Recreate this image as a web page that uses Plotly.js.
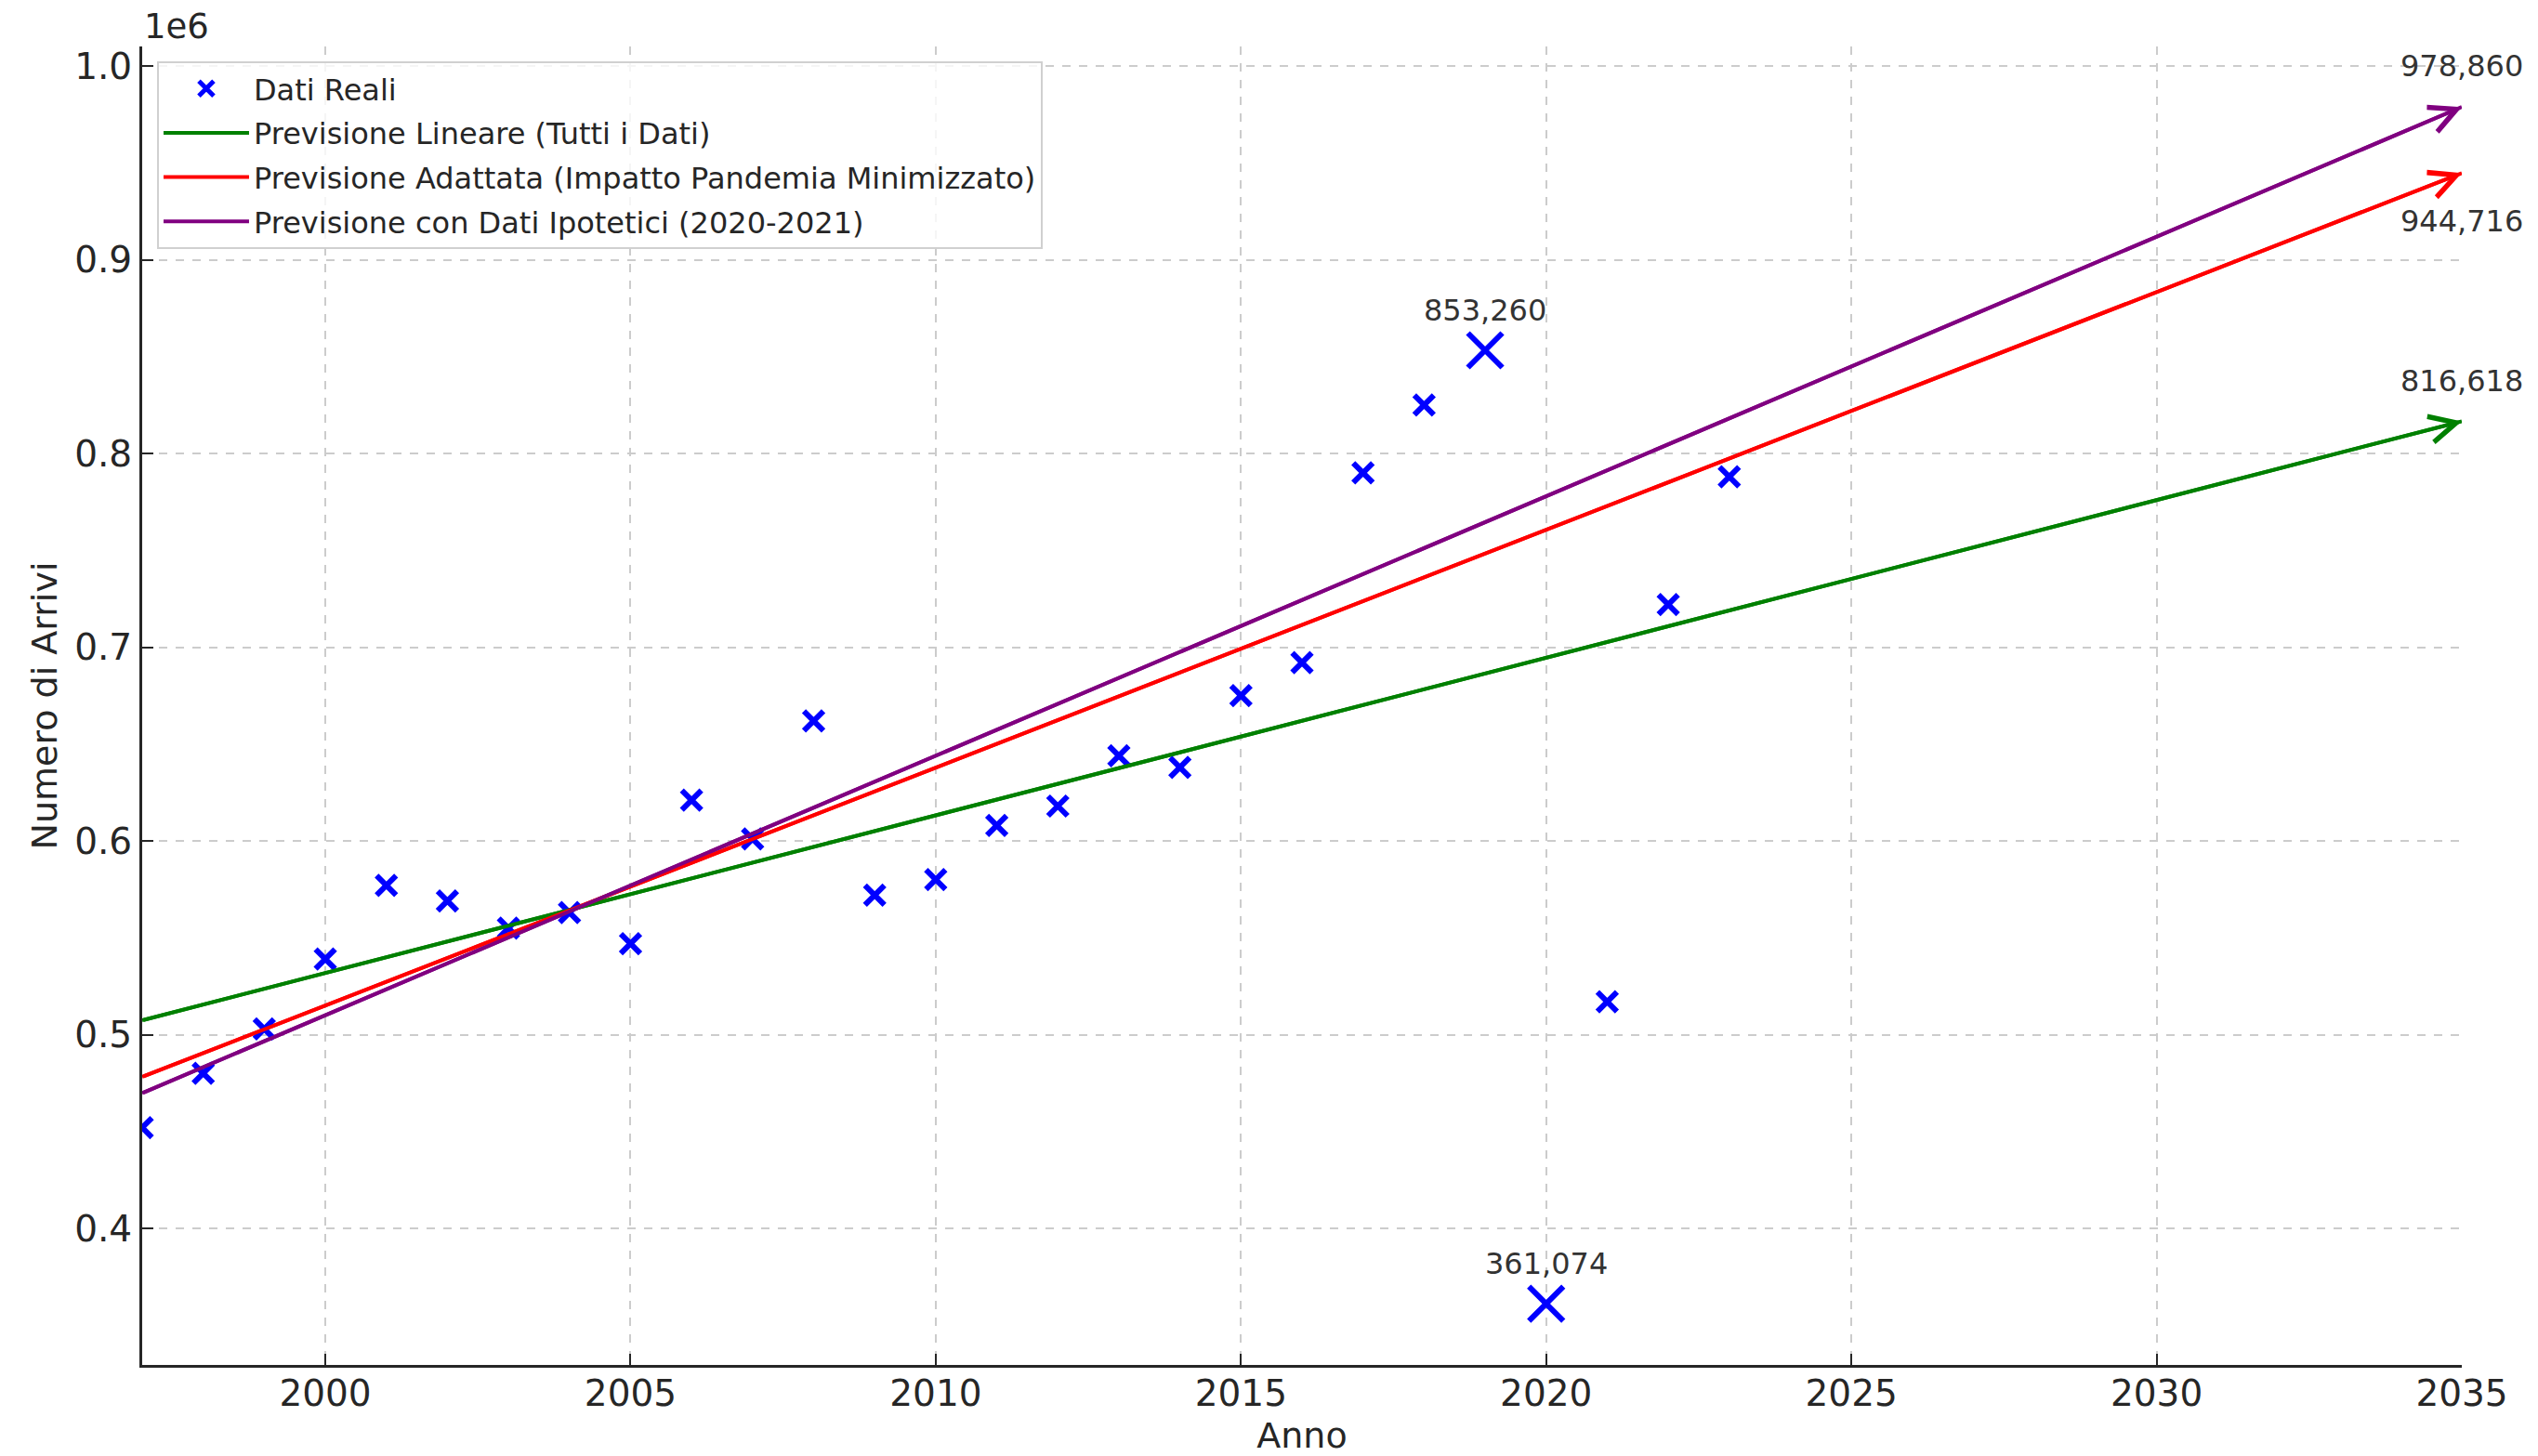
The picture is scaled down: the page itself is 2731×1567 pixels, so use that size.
<!DOCTYPE html>
<html>
<head>
<meta charset="utf-8">
<script src="https://cdn.plot.ly/plotly-3.0.1.min.js"></script>
<style>
  html, body { margin: 0; padding: 0; background: #ffffff; }
  #chart { width: 2731px; height: 1567px; }
</style>
</head>
<body>
<div id="chart"></div>
<script>
// arrivi annuali
const anni = [1997, 1998, 1999, 2000, 2001, 2002, 2003, 2004, 2005, 2006, 2007, 2008, 2009,
  2010, 2011, 2012, 2013, 2014, 2015, 2016, 2017, 2018, 2019, 2020, 2021, 2022, 2023];
const arrivi = [452000, 480000, 503000, 539000, 577000, 569000, 555000, 563000, 547000, 621000,
  601000, 662000, 572000, 580000, 608000, 618000, 644000, 638000, 675000, 692000, 790000,
  825000, 853260, 361074, 517000, 722000, 788000];
const anniEvidenziati = [2019, 2020];

// previsioni: estremi delle rette
const anniPrev = [1997, 2035];
const prevLineare = [507400, 816618];
const prevAdattata = [478200, 944716];
const prevIpotetica = [469800, 978860];

const xTicks = [2000, 2005, 2010, 2015, 2020, 2025, 2030, 2035];
const yTicks = [400000, 500000, 600000, 700000, 800000, 900000, 1000000];
const yTickText = ['0.4', '0.5', '0.6', '0.7', '0.8', '0.9', '1.0'];

const FONT = 'DejaVu Sans, sans-serif';
const fmt = v => Math.round(v).toLocaleString('en-US');

function lineTrace(name, yv, color, rank) {
  return {
    x: anniPrev,
    y: yv,
    mode: 'lines',
    type: 'scatter',
    name: name,
    legendrank: rank,
    legendgroup: name,
    line: { color: color, width: 4 }
  };
}

const traces = [
  lineTrace('Previsione Lineare (Tutti i Dati)', prevLineare, '#008000', 2),
  lineTrace('Previsione Adattata (Impatto Pandemia Minimizzato)', prevAdattata, '#ff0000', 3),
  lineTrace('Previsione con Dati Ipotetici (2020-2021)', prevIpotetica, '#800080', 4),
  {
    x: anni,
    y: arrivi,
    mode: 'markers',
    type: 'scatter',
    name: 'Dati Reali',
    legendrank: 1,
    legendgroup: 'dati',
    marker: {
      symbol: 'x-thin',
      size: anni.map(a => anniEvidenziati.includes(a) ? 37 : 21),
      color: '#0000ff',
      opacity: 1,
      line: { color: '#0000ff', width: 6 }
    }
  }
];

const annotations = [];

// frecce alla fine delle previsioni
[[prevLineare, '#008000', 43], [prevAdattata, '#ff0000', -52], [prevIpotetica, '#800080', 44]]
  .forEach(([yv, color, shift]) => {
    annotations.push({
      x: anniPrev[1], y: yv[1], xref: 'x', yref: 'y',
      ax: anniPrev[0], ay: yv[0], axref: 'x', ayref: 'y',
      text: '', showarrow: true, arrowhead: 5, arrowsize: 1.4,
      arrowwidth: 4, arrowcolor: color, standoff: 0
    });
    annotations.push({
      x: anniPrev[1], y: yv[1], xref: 'x', yref: 'y',
      text: fmt(yv[1]), showarrow: false, yshift: shift,
      xanchor: 'center', yanchor: 'middle',
      font: { family: FONT, size: 32, color: '#333333' }
    });
  });

// etichette dei punti evidenziati
anniEvidenziati.forEach(a => {
  const v = arrivi[anni.indexOf(a)];
  annotations.push({
    x: a, y: v, xref: 'x', yref: 'y',
    text: fmt(v), showarrow: false, yshift: 43,
    xanchor: 'center', yanchor: 'middle',
    font: { family: FONT, size: 32, color: '#333333' }
  });
});

// fattore di scala dell'asse y
annotations.push({
  x: 0, y: 1, xref: 'paper', yref: 'paper',
  text: '1e6', showarrow: false, xanchor: 'left', yanchor: 'middle',
  xshift: 0, yshift: 22,
  font: { family: FONT, size: 37, color: '#262626' }
});

const axisCommon = {
  showgrid: true,
  gridcolor: '#cccccc',
  gridwidth: 2,
  griddash: 'dash',
  zeroline: false,
  showline: true,
  linecolor: '#262626',
  linewidth: 3,
  ticks: 'inside',
  ticklen: 12,
  tickwidth: 2,
  tickcolor: '#262626',
  tickfont: { family: FONT, size: 39, color: '#262626' },
  automargin: false
};

const layout = {
  width: 2731,
  height: 1567,
  margin: { l: 153, r: 82, t: 50, b: 98 },
  paper_bgcolor: '#ffffff',
  plot_bgcolor: '#ffffff',
  font: { family: FONT, color: '#262626' },
  showlegend: true,
  legend: {
    x: 0.0064, y: 0.9887, xanchor: 'left', yanchor: 'top',
    bgcolor: 'rgba(255,255,255,0.8)',
    bordercolor: '#d0d0d0', borderwidth: 2,
    font: { family: FONT, size: 32, color: '#262626' },
    itemwidth: 92,
    tracegroupgap: 3
  },
  xaxis: Object.assign({}, axisCommon, {
    range: [1997, 2035],
    tickvals: xTicks,
    ticklabelstandoff: -6,
    title: { text: 'Anno', font: { family: FONT, size: 38, color: '#262626' }, standoff: 12 }
  }),
  yaxis: Object.assign({}, axisCommon, {
    range: [329500, 1010100],
    tickvals: yTicks,
    ticktext: yTickText,
    title: { text: 'Numero di Arrivi', font: { family: FONT, size: 38, color: '#262626' }, standoff: 7 }
  }),
  annotations: annotations
};

Plotly.newPlot('chart', traces, layout, { displayModeBar: false, staticPlot: true });
</script>
</body>
</html>
